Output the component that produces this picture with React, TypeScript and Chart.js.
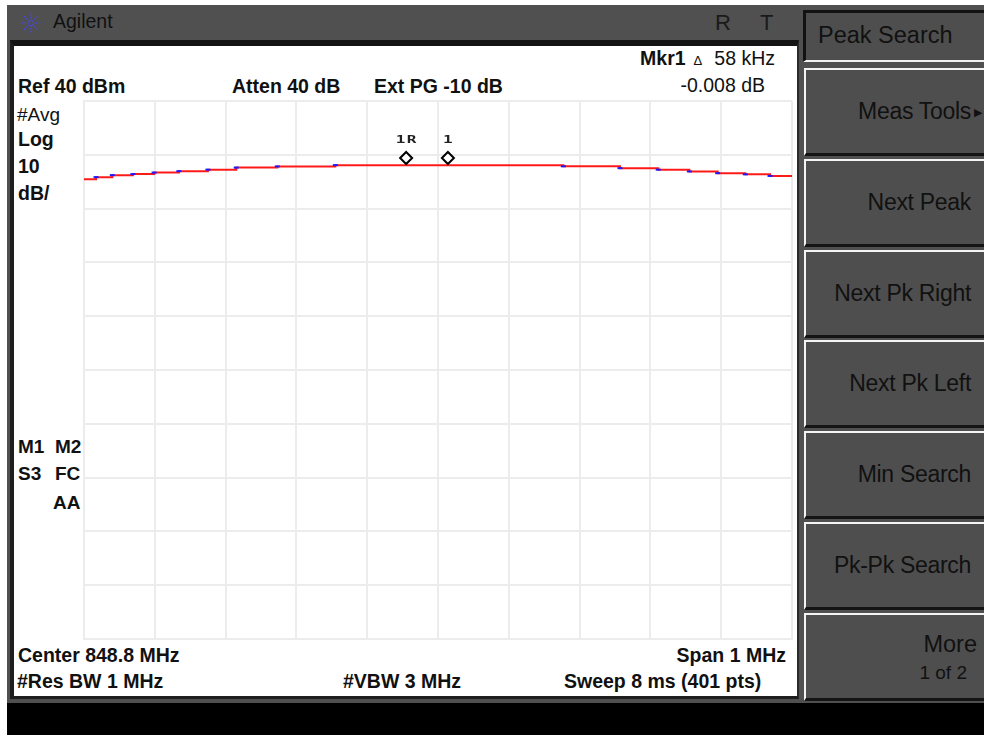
import React, { useEffect, useRef } from "react";
import { Chart, registerables } from "chart.js";

Chart.register(...registerables);

// ---- Instrument data ----
const freqGridMHz = [848.3, 848.4, 848.5, 848.6, 848.7, 848.8, 848.9, 849.0, 849.1, 849.2, 849.3];
const levelGridDbm = [-60, -50, -40, -30, -20, -10, 0, 10, 20, 30, 40];

// stepped trace: each entry is the start of a level step (MHz, dBm)
const traceStepFreqMHz = [
  848.3, 848.317, 848.34, 848.369, 848.399, 848.434, 848.475, 848.515, 848.573,
  848.655, 848.977, 849.057, 849.111, 849.155, 849.195, 849.234, 849.269, 849.3,
];
const traceStepDbm = [
  25.47, 25.85, 26.22, 26.41, 26.69, 26.96, 27.24, 27.62, 27.84,
  28.08, 27.86, 27.52, 27.24, 26.91, 26.59, 26.37, 26.07, 26.07,
];

const markerFreqMHz = [848.755, 848.814];
const markerDbm = [29.4, 29.4];
const markerLabels = ["1R", "1"];

const softkeyLabels = ["Meas Tools", "Next Peak", "Next Pk Right", "Next Pk Left", "Min Search", "Pk-Pk Search"];

const FONT = "'Liberation Sans', Arial, sans-serif";

const markerLabelPlugin = {
  id: "markerLabels",
  afterDatasetsDraw(chart: any) {
    const meta = chart.getDatasetMeta(0);
    const ctx = chart.ctx;
    ctx.save();
    ctx.font = "bold 10px 'DejaVu Sans Mono', monospace";
    ctx.fillStyle = "#222";
    ctx.textAlign = "center";
    ctx.textBaseline = "middle";
    meta.data.forEach((pt: any, i: number) => {
      const label = markerLabels[i] || "";
      const spacing = 11;
      const start = pt.x - ((label.length - 1) * spacing) / 2;
      for (let c = 0; c < label.length; c++) {
        ctx.save();
        ctx.translate(start + c * spacing, pt.y - 18);
        ctx.scale(1.6, 1);
        ctx.fillText(label[c], 0, 0);
        ctx.restore();
      }
    });
    ctx.restore();
  },
};

function Txt(props: {
  x?: number;
  right?: number;
  cy: number;
  size?: number;
  bold?: boolean;
  color?: string;
  children: React.ReactNode;
}) {
  const size = props.size ?? 19.5;
  const s: React.CSSProperties = {
    position: "absolute",
    top: props.cy - 0.49 * size,
    fontSize: size,
    lineHeight: `${size}px`,
    fontWeight: props.bold ? 700 : 400,
    color: props.color ?? "#111",
    whiteSpace: "nowrap",
  };
  if (props.right !== undefined) s.right = 984 - props.right;
  else s.left = props.x;
  return <div style={s}>{props.children}</div>;
}

function Softkey({ top, label, extra }: { top: number; label: string; extra?: React.ReactNode }) {
  return (
    <div
      style={{
        position: "absolute",
        left: 804,
        top,
        width: 180,
        height: 88,
        boxSizing: "border-box",
        background: "#4e4e4e",
        borderTop: "2px solid #f4f4f4",
        borderLeft: "2px solid #f4f4f4",
        borderBottom: "3px solid #141414",
        display: "flex",
        alignItems: "center",
        justifyContent: "flex-end",
        paddingRight: 13,
        fontSize: 23,
        color: "#111",
        whiteSpace: "nowrap",
        letterSpacing: -0.3,
      }}
    >
      {label}
      {extra}
    </div>
  );
}

export default function App() {
  const canvasRef = useRef<HTMLCanvasElement | null>(null);

  useEffect(() => {
    document.body.style.margin = "0";
    const canvas = canvasRef.current;
    if (!canvas) return;
    const chart = new Chart(canvas, {
      type: "line",
      data: {
        datasets: [
          {
            label: "markers",
            data: markerFreqMHz.map((f, i) => ({ x: f, y: markerDbm[i] })),
            showLine: false,
            pointStyle: "rectRot",
            pointRadius: 6,
            borderWidth: 2,
            borderColor: "#000",
            backgroundColor: "#fff",
          },
          {
            label: "trace2",
            data: traceStepFreqMHz.slice(1, -1).map((f, i) => ({ x: f, y: traceStepDbm[i + 1] })),
            showLine: false,
            pointStyle: "line",
            pointRadius: 2.5,
            borderWidth: 2,
            borderColor: "#1a1aff",
            backgroundColor: "#1a1aff",
          },
          {
            label: "trace1",
            data: traceStepFreqMHz.map((f, i) => ({ x: f, y: traceStepDbm[i] })),
            stepped: true,
            borderColor: "#ff1a1a",
            borderWidth: 2,
            pointRadius: 0,
            fill: false,
          },
        ],
      },
      options: {
        responsive: false,
        animation: false,
        events: [],
        layout: { autoPadding: false, padding: { left: 1, top: 1, right: 2, bottom: 1 } },
        plugins: { legend: { display: false }, tooltip: { enabled: false } },
        scales: {
          x: {
            type: "linear",
            min: freqGridMHz[0],
            max: freqGridMHz[freqGridMHz.length - 1],
            afterBuildTicks: (s: any) => {
              s.ticks = freqGridMHz.map((v) => ({ value: v }));
            },
            afterFit: (s: any) => {
              s.height = 0;
            },
            ticks: { display: false },
            grid: { color: "#ececec", lineWidth: 2, drawTicks: false },
            border: { display: true, color: "#ececec", width: 2 },
          },
          y: {
            type: "linear",
            min: levelGridDbm[0],
            max: levelGridDbm[levelGridDbm.length - 1],
            afterBuildTicks: (s: any) => {
              s.ticks = levelGridDbm.map((v) => ({ value: v }));
            },
            afterFit: (s: any) => {
              s.width = 0;
            },
            ticks: { display: false },
            grid: { color: "#ececec", lineWidth: 2, drawTicks: false },
            border: { display: true, color: "#ececec", width: 2 },
          },
        },
      } as any,
      plugins: [markerLabelPlugin],
    });
    return () => chart.destroy();
  }, []);

  const keyTops = [68, 159, 250, 340, 431, 522];

  return (
    <div
      style={{
        position: "fixed",
        left: 0,
        top: 0,
        width: 984,
        height: 738,
        overflow: "hidden",
        background: "#ffffff",
        fontFamily: FONT,
      }}
    >
      {/* instrument frame */}
      <div style={{ position: "absolute", left: 7, top: 5, width: 977, height: 698, background: "#505050" }} />
      {/* logo */}
      <svg style={{ position: "absolute", left: 19, top: 11 }} width={24} height={24} viewBox="0 0 24 24">
        {[0, 1, 2, 3, 4, 5, 6, 7].map((k) => {
          const a = (k * Math.PI) / 4;
          return (
            <line
              key={k}
              x1={12 + Math.cos(a) * 2}
              y1={12 + Math.sin(a) * 2}
              x2={12 + Math.cos(a) * 11}
              y2={12 + Math.sin(a) * 11}
              stroke="#4646ff"
              strokeWidth={1.2}
              strokeDasharray="1.5 1.5"
            />
          );
        })}
      </svg>
      <Txt x={53} cy={22} size={19.5}>Agilent</Txt>
      <Txt x={715} cy={23} size={22} color="#1a1a1a">R</Txt>
      <Txt x={760} cy={23} size={22} color="#1a1a1a">T</Txt>

      {/* white display panel */}
      <div
        style={{
          position: "absolute",
          left: 10,
          top: 40,
          width: 789,
          height: 659,
          boxSizing: "border-box",
          background: "#fff",
          borderTop: "6px solid #141414",
          borderLeft: "4px solid #1e1e1e",
          borderRight: "2px solid #2a2a2a",
          borderBottom: "3px solid #1e1e1e",
        }}
      />

      <canvas
        ref={canvasRef}
        width={711}
        height={540}
        style={{ position: "absolute", left: 83, top: 100, width: 711, height: 540 }}
      />

      {/* annotation texts */}
      <div
        style={{
          position: "absolute",
          right: 984 - 775,
          top: 59 - 0.49 * 19.5,
          fontSize: 19.5,
          lineHeight: "19.5px",
          color: "#111",
          whiteSpace: "nowrap",
        }}
      >
        <b>Mkr1</b>
        <span style={{ fontSize: 13, margin: "0 12px 0 8px" }}>Δ</span>
        58 kHz
      </div>
      <Txt x={18} cy={87} bold>Ref 40 dBm</Txt>
      <Txt x={232} cy={87} bold>Atten 40 dB</Txt>
      <Txt x={374} cy={87} bold>Ext PG -10 dB</Txt>
      <Txt right={765} cy={86}>-0.008 dB</Txt>

      <Txt x={17} cy={114} size={19}>#Avg</Txt>
      <Txt x={18} cy={140} bold>Log</Txt>
      <Txt x={18} cy={167} bold>10</Txt>
      <Txt x={18} cy={194} bold>dB/</Txt>

      <Txt x={18} cy={446} size={19} bold>M1</Txt>
      <Txt x={55} cy={446} size={19} bold>M2</Txt>
      <Txt x={18} cy={473} size={19} bold>S3</Txt>
      <Txt x={55} cy={473} size={19} bold>FC</Txt>
      <Txt x={53} cy={502} size={19} bold>AA</Txt>

      <Txt x={18} cy={656} bold>Center 848.8 MHz</Txt>
      <Txt right={786} cy={656} bold>Span 1 MHz</Txt>
      <Txt x={17} cy={682} bold>#Res BW 1 MHz</Txt>
      <Txt x={343} cy={682} bold>#VBW 3 MHz</Txt>
      <Txt x={564} cy={682} bold>Sweep 8 ms (401 pts)</Txt>

      {/* softkeys */}
      <div
        style={{
          position: "absolute",
          left: 803,
          top: 10,
          width: 181,
          height: 52,
          boxSizing: "border-box",
          background: "#4e4e4e",
          borderTop: "3px solid #121212",
          borderLeft: "3px solid #121212",
          borderBottom: "2px solid #f2f2f2",
        }}
      />
      <Txt x={818} cy={36} size={23.5}>Peak Search</Txt>
      {softkeyLabels.map((lab, i) => (
        <Softkey
          key={lab}
          top={keyTops[i]}
          label={lab}
          extra={
            i === 0 ? (
              <span style={{ fontSize: 11, position: "absolute", right: 2, top: 36 }}>▶</span>
            ) : undefined
          }
        />
      ))}
      <div
        style={{
          position: "absolute",
          left: 804,
          top: 613,
          width: 180,
          height: 88,
          boxSizing: "border-box",
          background: "#4e4e4e",
          borderTop: "2px solid #f4f4f4",
          borderLeft: "2px solid #f4f4f4",
          borderBottom: "3px solid #141414",
        }}
      />
      <Txt right={977} cy={645} size={23.5}>More</Txt>
      <Txt right={967} cy={672} size={19}>1 of 2</Txt>

      {/* status bar */}
      <div style={{ position: "absolute", left: 7, top: 703, width: 977, height: 32, background: "#000" }} />
    </div>
  );
}
